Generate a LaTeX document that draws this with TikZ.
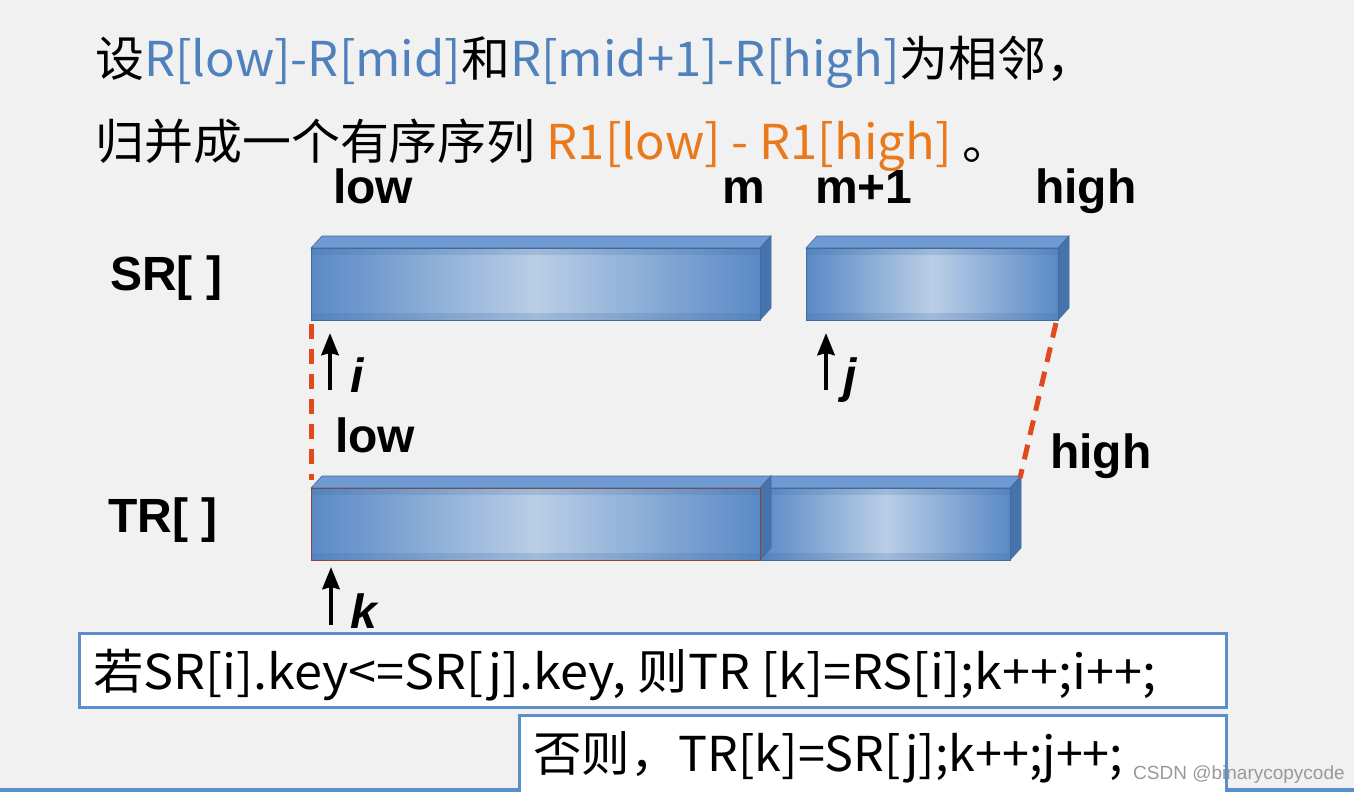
\documentclass[tikz,border=0pt]{standalone}
\usepackage{fontspec}
\setmainfont{Liberation Sans}
\newfontfamily\cjk{Noto Sans CJK SC}
\usepackage{tikz}
\usetikzlibrary{arrows.meta}
\usetikzlibrary{positioning}

\definecolor{bg}{HTML}{F1F1F1}
\definecolor{txtblue}{HTML}{4F81BD}
\definecolor{txtorange}{HTML}{E9791B}
\definecolor{bardark}{HTML}{5A8AC6}
\definecolor{barlight}{HTML}{BACEE6}
\definecolor{bartop}{HTML}{6F9BD2}
\definecolor{barside}{HTML}{4673AC}
\definecolor{barline}{HTML}{3F6BA0}
\definecolor{barred}{HTML}{8E4436}
\definecolor{dashred}{HTML}{E04A1C}
\definecolor{boxblue}{HTML}{5B8FCB}

\tikzstyle{ptr} = [line width=4.5pt,->,>={Stealth[length=22pt,width=17pt,inset=2pt]}]
\tikzstyle{cut} = [dashred, line width=5pt, dash pattern=on 15pt off 10pt]
\tikzstyle{lbl} = [font=\bfseries\fontsize{48}{50}\selectfont, inner sep=0pt, anchor=base west]
\tikzstyle{idx} = [font=\bfseries\itshape\fontsize{48}{50}\selectfont, inner sep=0pt, anchor=base west]
\tikzstyle{textline} = [font=\cjk\fontsize{48}{52}\selectfont, inner sep=0pt, anchor=base west]
\tikzstyle{codebox} = [draw=boxblue, fill=white, line width=3pt, inner sep=0pt, anchor=north west]
\tikzset{front/.style={draw=#1, line width=1pt, inner sep=0pt, minimum height=72pt,
    anchor=north west, left color=bardark, right color=bardark, middle color=barlight}}

% slab: name, x, y, width, outline colour
\newcommand{\slab}[5]{%
  \fill[bartop, draw=barline, line width=0.6pt] (#2,#3) -- ++(11,-12) -- ++(#4,0) -- ++(-11,12) -- cycle;
  \fill[barside, draw=barline, line width=0.6pt] (#2+#4,#3) -- ++(11,-12) -- ++(0,72) -- ++(-11,12) -- cycle;
  \node[front=#5, minimum width=#4pt] (#1) at (#2,#3) {};
  \fill[barline, opacity=0.2] (#2,#3) rectangle ++(#4,7);
  \fill[barline, opacity=0.2] (#2,#3+65) rectangle ++(#4,7);
}

\begin{document}
\begin{tikzpicture}[x=1pt,y=-1pt]
\fill[bg] (0,0) rectangle (1354,792);
\useasboundingbox (0,0) rectangle (1354,792);

% heading
\node[textline, xscale=1.02, transform shape] (head1) at (95,76) {设\textcolor{txtblue}{R[low]-R[mid]}和\textcolor{txtblue}{R[mid+1]-R[high]}为相邻，};
\node[textline, xscale=1.02, transform shape] (head2) at (95,159) {归并成一个有序序列 \textcolor{txtorange}{R1[low] - R1[high]} 。};

% indices above SR
\node[lbl] (lowa) at (333,203) {low};
\node[lbl] (mida) at (722,203) {m};
\node[lbl] (midb) at (815,203) {m+1};
\node[lbl] (higha) at (1035,203) {high};

\node[lbl] (srname) at (110,290) {SR[ ]};
\node[lbl] (trname) at (108,532) {TR[ ]};

% the arrays
\slab{sra}{311}{248}{449}{barline}
\slab{srb}{806}{248}{252}{barline}
\slab{trb}{760}{488}{250}{barline}
\slab{tra}{311}{488}{449}{barred}

% bounds of the merge
\draw[cut] ([yshift=-3pt]sra.south west) -- ([yshift=8pt]tra.north west);
\draw[cut] ([xshift=-3pt,yshift=-2pt]srb.south east) -- ([xshift=9pt,yshift=10pt]trb.north east);

\node[lbl] (lowb) at (335,452) {low};
\node[lbl] (highb) at (1050,468) {high};

% pointers
\coordinate (itail) at (330,390);
\coordinate (ihead) at (330,333);
\coordinate (jtail) at (826,390);
\coordinate (jhead) at (826,333);
\coordinate (ktail) at (331,625);
\coordinate (khead) at (331,567);
\draw[ptr] (itail) -- (ihead);
\draw[ptr] (jtail) -- (jhead);
\draw[ptr] (ktail) -- (khead);
\node[idx] (ii) at (350,392) {i};
\node[idx] (jj) at (843,392) {j};
\node[idx] (kk) at (350,628) {k};

% code
\draw[boxblue, line width=4pt] (0,790) -- (1354,790);
\node[codebox, minimum width=1147pt, minimum height=74pt] (ifbox) at (78,632) {};
\node[codebox, minimum width=707pt, minimum height=80pt] (elsebox) at (518,714) {};
\node[textline, xscale=1.05, transform shape] (iftext) at (93,689) {若SR[i].key<=SR[j].key, 则TR [k]=RS[i];k++;i++;};
\node[textline, xscale=1.01, transform shape] (elsetext) at (533,771) {否则，TR[k]=SR[j];k++;j++;};
\node[font=\fontsize{19}{20}\selectfont, text=black!40, inner sep=0pt, anchor=base west] (mark) at (1133,779) {CSDN @binarycopycode};
\end{tikzpicture}
\end{document}
